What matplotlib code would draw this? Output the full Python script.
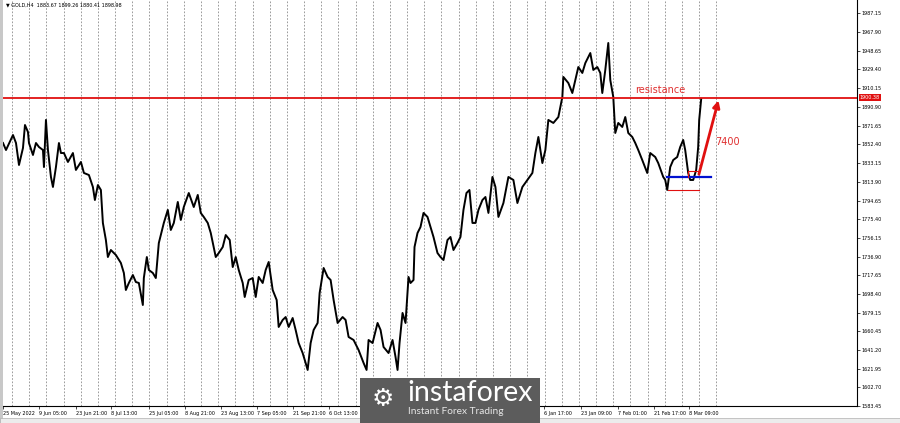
import matplotlib.pyplot as plt
from matplotlib.patches import Rectangle

# GOLD H4 - close path (bar position, price)
bars = [2, 5, 12, 15, 18, 22, 24, 27, 28, 32, 35, 38, 42, 43, 45, 47, 50, 52, 55, 58,
        60, 63, 67, 72, 75, 80, 83, 88, 92, 94, 97, 100, 102, 105, 107, 110, 115, 120, 123, 125,
        128, 132, 135, 138, 142, 143, 146, 148, 152, 155, 158, 163, 167, 170, 173, 177, 180, 183, 188, 193,
        197, 200, 203, 207, 210, 215, 218, 222, 225, 229, 232, 235, 238, 242, 244, 248, 252, 255, 258, 262,
        265, 268, 272, 276, 278, 282, 285, 288, 292, 295, 298, 302, 305, 307, 310, 313, 317, 319, 323, 327,
        330, 333, 337, 342, 345, 348, 353, 358, 363, 366, 368, 372, 377, 380, 383, 388, 392, 395, 397, 399,
        402, 405, 408, 410, 413, 414, 417, 420, 423, 427, 430, 433, 437, 440, 443, 447, 450, 453, 457, 460,
        463, 466, 469, 472, 475, 478, 482, 485, 488, 492, 495, 498, 503, 508, 513, 517, 522, 527, 532, 535,
        538, 542, 545, 548, 553, 558, 562, 563, 568, 572, 575, 578, 582, 585, 590, 593, 597, 600, 602, 605,
        608, 610, 613, 615, 618, 622, 625, 628, 632, 635, 638, 642, 647, 650, 655, 658, 663, 665, 667, 670,
        673, 677, 680, 683, 685, 688, 690, 693, 696, 698, 699, 701]
close = [1853.8, 1846.6, 1862.0, 1853.8, 1831.2, 1848.7, 1872.3, 1865.1, 1853.8, 1841.5,
         1853.8, 1849.7, 1846.6, 1829.1, 1877.5, 1846.6, 1818.9, 1808.6, 1829.1, 1853.8,
         1843.5, 1843.5, 1834.3, 1843.5, 1826.1, 1834.3, 1823.0, 1820.9, 1808.6, 1795.2,
         1810.6, 1805.5, 1771.6, 1754.1, 1736.6, 1743.8, 1738.7, 1730.5, 1720.2, 1702.7,
         1709.9, 1718.1, 1710.9, 1709.9, 1687.3, 1715.0, 1736.6, 1723.3, 1720.2, 1715.0,
         1751.0, 1771.6, 1785.0, 1764.4, 1771.6, 1793.2, 1774.7, 1788.0, 1802.4, 1788.0,
         1800.4, 1781.9, 1777.8, 1771.6, 1761.3, 1736.6, 1740.7, 1746.9, 1759.2, 1754.1,
         1726.3, 1736.6, 1723.3, 1709.9, 1695.5, 1713.0, 1715.0, 1695.5, 1716.1, 1709.9,
         1723.3, 1731.5, 1702.7, 1692.4, 1664.7, 1671.9, 1674.9, 1664.7, 1673.9, 1661.6,
         1648.2, 1637.9, 1627.7, 1620.5, 1648.2, 1661.6, 1668.8, 1699.6, 1725.3, 1716.1,
         1713.0, 1692.4, 1668.8, 1674.9, 1671.9, 1654.4, 1651.3, 1641.0, 1627.7, 1620.5,
         1651.3, 1648.2, 1668.8, 1661.6, 1644.1, 1637.9, 1651.3, 1633.8, 1620.5, 1648.2,
         1679.1, 1668.8, 1716.1, 1709.9, 1713.0, 1746.9, 1761.3, 1767.5, 1781.9, 1777.8,
         1767.5, 1757.2, 1740.7, 1736.6, 1733.5, 1754.1, 1757.2, 1743.8, 1751.0, 1757.2,
         1785.0, 1802.4, 1805.5, 1771.6, 1771.6, 1785.0, 1795.2, 1798.3, 1781.9, 1818.9,
         1808.6, 1777.8, 1792.1, 1818.9, 1815.8, 1792.1, 1808.6, 1815.8, 1823.0, 1843.5,
         1860.0, 1833.2, 1846.6, 1877.5, 1874.4, 1880.5, 1901.1, 1921.7, 1915.5, 1905.2,
         1918.6, 1931.9, 1925.8, 1936.0, 1946.3, 1928.9, 1931.9, 1925.8, 1905.2, 1928.9,
         1956.6, 1918.6, 1901.1, 1864.1, 1874.4, 1870.3, 1880.5, 1864.1, 1860.0, 1853.8,
         1846.6, 1836.3, 1823.0, 1843.5, 1839.4, 1833.2, 1818.9, 1815.8, 1805.5, 1829.1,
         1836.3, 1839.4, 1849.7, 1856.9, 1846.6, 1823.0, 1815.8, 1815.8, 1826.1, 1849.7,
         1877.5, 1898.98]

price_ticks = [1583.45, 1602.70, 1621.95, 1641.20, 1660.45, 1679.15, 1698.40, 1717.65,
               1736.90, 1756.15, 1775.40, 1794.65, 1813.90, 1833.15, 1852.40, 1871.65,
               1890.90, 1910.15, 1929.40, 1948.65, 1967.90, 1987.15]
date_pos = [2, 38, 75, 110, 148, 184, 220, 256, 292, 328, 544, 581, 618, 654, 689]
date_labels = ["25 May 2022", "9 Jun 05:00", "23 Jun 21:00", "8 Jul 13:00", "25 Jul 05:00",
               "8 Aug 21:00", "23 Aug 13:00", "7 Sep 05:00", "21 Sep 21:00", "6 Oct 13:00",
               "6 Jan 17:00", "23 Jan 09:00", "7 Feb 01:00", "21 Feb 17:00", "8 Mar 09:00"]
week_first, week_step, week_count = 11, 17.2, 42

resistance = 1900.38
box_top, box_bottom, base_low = 1824.9, 1818.9, 1805.5
target_label = "7400"

fig = plt.figure(figsize=(9, 4.23), dpi=100)
ax = fig.add_axes([3 / 900, 17 / 423, 854 / 900, 406 / 423])
ax.set_xlim(3, 857)
ax.set_ylim(1583.45, 2000.8)

# weekly separators
for k in range(week_count):
    ax.axvline(week_first + k * week_step, color='#8a8a8a', lw=0.6, dashes=(2, 2), zorder=1)

ax.plot(bars, close, color='black', lw=1.4, zorder=3)

# resistance
ax.axhline(resistance, color='#e01010', lw=1.3, zorder=4)
ax.text(660, resistance + 3, "resistance", color='#e03030', fontsize=7, ha='center', va='bottom')

# base / breakout marks
ax.plot([667, 711], [box_bottom, box_bottom], color='#0010d0', lw=1.6, zorder=5)
ax.plot([668, 699], [base_low, base_low], color='#e01010', lw=0.8, zorder=5)
ax.plot([688, 688, 699], [box_bottom, box_top, box_top], color='#e01010', lw=0.8, zorder=5)
ax.annotate("", xy=(719, resistance), xytext=(698, box_bottom),
            arrowprops=dict(arrowstyle='-|>', color='#e01010', lw=2, mutation_scale=10), zorder=6)
ax.text(727, 1855, target_label, color='#e03030', fontsize=7, ha='center', va='center')

# axes look
for s in ['top', 'left']:
    ax.spines[s].set_visible(False)
ax.spines['right'].set_linewidth(0.8)
ax.spines['bottom'].set_linewidth(0.8)
ax.yaxis.tick_right()
ax.set_yticks(price_ticks)
ax.set_yticklabels(["%.2f" % p for p in price_ticks])
ax.tick_params(axis='y', labelsize=3.5, length=2, width=0.5, pad=1.5)
ax.set_xticks(date_pos)
ax.set_xticklabels(date_labels, ha='left')
ax.tick_params(axis='x', labelsize=3.5, length=2, width=0.5, pad=1.5)

# current price tag
ax.text(1.003, resistance, "1900.38", color='white', fontsize=3.5, va='center', ha='left',
        transform=ax.get_yaxis_transform(), clip_on=False, zorder=7,
        bbox=dict(boxstyle='square,pad=0.2', fc='#e01010', ec='none'))

# header
ax.text(0.003, 0.993, "\u25bc GOLD,H4  1883.67 1899.26 1880.41 1898.98", transform=ax.transAxes,
        fontsize=3.5, va='top', ha='left')

# left border and bottom tab strip
fig.patches.append(Rectangle((0, 0), 3 / 900, 1, transform=fig.transFigure, fc='#c8c8c8', ec='none'))
fig.patches.append(Rectangle((0, 0), 1, 5 / 423, transform=fig.transFigure, fc='#ececec', ec='#b0b0b0', lw=0.5))

# logo
fig.patches.append(Rectangle((360 / 900, 0), 180 / 900, 45 / 423, transform=fig.transFigure,
                             fc='#5c5c5c', ec='none', zorder=10))
fig.text(383 / 900, 1 - 399 / 423, "\u2699", color='white', fontsize=18, ha='center', va='center', zorder=11)
fig.text(407 / 900, 1 - 393 / 423, "instaforex", color='white', fontsize=20.5, family='Lato',
         ha='left', va='center', zorder=11)
fig.text(408 / 900, 1 - 411 / 423, "Instant Forex Trading", color='#e6e6e6', fontsize=7.3, family='Lato',
         ha='left', va='center', zorder=11)

fig.savefig('out.png', dpi=100)
